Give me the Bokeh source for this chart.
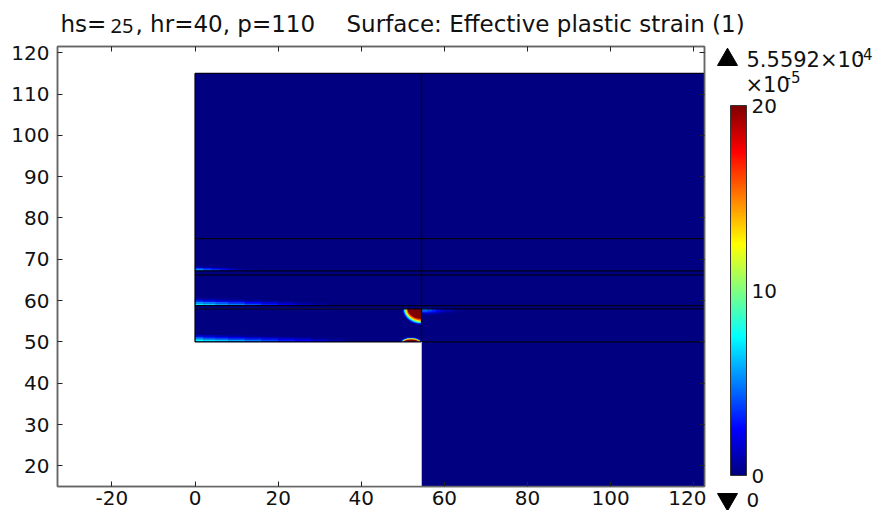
from bokeh.plotting import figure
from bokeh.embed import file_html
from bokeh.resources import INLINE
from bokeh.layouts import column, row
from bokeh.core.properties import value
from bokeh.models import (Range1d, LinearAxis, FixedTicker, LinearColorMapper, ColorBar, ColumnDataSource)
from bokeh.transform import transform
import numpy as np

X_TICKS = [-20, 0, 20, 40, 60, 80, 100, 120]
Y_TICKS = [20, 30, 40, 50, 60, 70, 80, 90, 100, 110, 120]
CBAR_TICKS = [0, 10, 20]
VMIN, VMAX = 0, 20
JET_STOPS = [(0, 0, 128), (0, 0, 255), (0, 128, 255), (0, 255, 255), (128, 255, 128),
             (255, 255, 0), (255, 128, 0), (255, 0, 0), (128, 0, 0)]

# domains: x0, x1, y0, y1
DOM_LOWER = (0, 54.5, 50, 58)
DOM_UPPER = (0, 54.5, 58, 115)
DOM_RIGHT = (54.5, 125, 15, 115)
EMPTY = (0, 54.5, 15, 50)
H_LINES = [75, 67.2, 66.2, 58.8, 58, 50]

# hot streak tables: x edges, y edges, rows of values (bottom row first)
S1_X = [0, 2, 5, 8, 12, 16, 20, 24, 28, 32, 36]
S1_Y = [50.1, 50.5, 50.9, 51.3, 51.7]
S1_V = [[7.5, 7, 6.5, 6, 5, 4, 3.2, 2.5, 1.6, 0.8],
        [6.5, 5.5, 5, 4.2, 3.5, 3, 2.2, 1.6, 0.8, 0.4],
        [4, 3.2, 2.8, 2.3, 1.6, 1.2, 0.8, 0.5, 0.2, 0],
        [1.5, 1.2, 0.8, 0.5, 0.3, 0.1, 0, 0, 0, 0]]
S2_X = [0, 2, 5, 8, 12, 16, 20, 24, 28, 32]
S2_Y = [58.9, 59.3, 59.7, 60.1, 60.5]
S2_V = [[7, 6.5, 5.5, 5, 4, 3, 2.2, 1.3, 0.7],
        [5.5, 5, 4.3, 3.5, 2.6, 1.8, 1.2, 0.6, 0.2],
        [3.5, 2.8, 2.2, 1.7, 1, 0.6, 0.3, 0, 0],
        [1.2, 0.9, 0.6, 0.4, 0.2, 0, 0, 0, 0]]
S3_X = [0, 2, 4, 6, 8, 10, 12, 15]
S3_Y = [67.3, 67.6, 67.9, 68.2]
S3_V = [[6.5, 5, 4.2, 3.2, 2.3, 1.4, 0.6],
        [4, 3.2, 2.3, 1.6, 0.9, 0.4, 0.2],
        [1.3, 0.9, 0.5, 0.3, 0.1, 0, 0]]
S4_X = [54.5, 56, 57, 58, 59, 60, 62, 64]
S4_Y = [56.4, 56.8, 57.2, 57.6, 58]
S4_V = [[0.4, 0.4, 0.3, 0.2, 0.1, 0, 0],
        [2, 1.8, 1.4, 1, 0.6, 0.3, 0.1],
        [4, 3.5, 3, 2.2, 1.5, 0.8, 0.3],
        [5, 4.5, 3.5, 2.8, 2, 1.2, 0.5]]

# hot spots: ring values with half-axes, outermost first
CORNER_V = [1, 3.5, 7, 10, 13, 16, 20]
CORNER_RX = [4.7, 4.5, 4.25, 4.05, 3.85, 3.6, 3.35]
CORNER_RY = [3.9, 3.7, 3.45, 3.25, 3.05, 2.8, 2.45]
BASE_V = [3, 9, 14, 20]
BASE_RX = [2.5, 2.25, 2.05, 1.8]
BASE_RY = [1.15, 0.95, 0.8, 0.6]

FRAME_W, FRAME_H = 647, 440
TOP_H = 44
SIDE_TOP = 46
MAIN_W = 706
W, H = 878, 512

xs = np.linspace(0, 1, 256)
stops = np.array(JET_STOPS, float)
pos = np.linspace(0, 1, len(stops))
palette = ["#%02x%02x%02x" % tuple(int(round(np.interp(t, pos, stops[:, k]))) for k in range(3)) for t in xs]
mapper = LinearColorMapper(palette=palette, low=VMIN, high=VMAX)

XR = (-33.1, 122.6)
YR = (15.0, 121.5)
p = figure(frame_width=FRAME_W, frame_height=FRAME_H, output_backend="svg", toolbar_location=None,
           x_range=Range1d(*XR), y_range=Range1d(*YR), min_border_left=57, min_border_top=2,
           min_border_bottom=26, min_border_right=2, outline_line_color="#666666",
           outline_line_width=1.5, background_fill_color="white", border_fill_color="white")
p.grid.visible = False


def style(ax, ticks, labels=True):
    ax.ticker = FixedTicker(ticks=ticks)
    ax.major_tick_in = 5
    ax.major_tick_out = 0
    ax.minor_tick_in = 0
    ax.minor_tick_out = 0
    ax.axis_line_color = "#666666"
    ax.axis_line_width = 1.5
    ax.major_tick_line_color = "#222222"
    ax.major_label_text_font = "DejaVu Sans"
    ax.major_label_text_font_size = "20px"
    ax.major_label_text_color = "#111111"
    if not labels:
        ax.major_label_text_font_size = "0px"
        ax.major_label_text_color = None
        ax.major_label_standoff = 0


top_ax = LinearAxis()
right_ax = LinearAxis()
p.add_layout(top_ax, "above")
p.add_layout(right_ax, "right")
style(p.below[0], X_TICKS)
style(p.left[0], Y_TICKS)
style(top_ax, X_TICKS, False)
style(right_ax, Y_TICKS, False)
p.below[0].major_label_standoff = 4
p.below[0].major_label_overrides = {-20: "-20"}
p.left[0].major_label_standoff = 8


def fill(box):
    p.quad(left=[box[0]], right=[box[1]], bottom=[box[2]], top=[box[3]],
           fill_color=palette[0], line_color=None)


def grid(xe, ye, vals):
    l, r, b, t, v = [], [], [], [], []
    for j, rw in enumerate(vals):
        for i, val in enumerate(rw):
            l.append(xe[i]); r.append(xe[i + 1]); b.append(ye[j]); t.append(ye[j + 1]); v.append(val)
    src = ColumnDataSource(dict(l=l, r=r, b=b, t=t, v=v))
    p.quad(left="l", right="r", bottom="b", top="t", source=src,
           fill_color=transform("v", mapper), line_color=transform("v", mapper), line_width=0.2)


fill(DOM_LOWER)
for v, rx, ry in zip(CORNER_V, CORNER_RX, CORNER_RY):
    src = ColumnDataSource(dict(x=[54.5], y=[58], w=[2 * rx], h=[2 * ry], v=[v]))
    p.ellipse(x="x", y="y", width="w", height="h", source=src, fill_color=transform("v", mapper), line_color=None)
for v, rx, ry in zip(BASE_V, BASE_RX, BASE_RY):
    src = ColumnDataSource(dict(x=[52], y=[50], w=[2 * rx], h=[2 * ry], v=[v]))
    p.ellipse(x="x", y="y", width="w", height="h", source=src, fill_color=transform("v", mapper), line_color=None)
fill(DOM_UPPER)
fill(DOM_RIGHT)
p.quad(left=[EMPTY[0]], right=[EMPTY[1]], bottom=[EMPTY[2]], top=[EMPTY[3]], fill_color="white", line_color=None)
grid(S1_X, S1_Y, S1_V)
grid(S2_X, S2_Y, S2_V)
grid(S3_X, S3_Y, S3_V)
grid(S4_X, S4_Y, S4_V)

EDGE = "#00001a"
for y in H_LINES:
    p.line([0, 125], [y, y], line_color=EDGE, line_width=1.3)
p.line([0, 0], [50, 115], line_color=EDGE, line_width=1.3)
p.line([0, 125], [115, 115], line_color=EDGE, line_width=1.3)
p.line([54.5, 54.5], [50, 115], line_color=EDGE, line_width=1.3)
p.line([54.5, 54.5], [15, 50], line_color="#bbbbbb", line_width=1)


def strip(w, h, xr, yr):
    f = figure(frame_width=w, frame_height=h, output_backend="svg", toolbar_location=None,
               x_range=Range1d(*xr), y_range=Range1d(*yr), min_border=0, outline_line_color=None,
               x_axis_location=None, y_axis_location=None)
    f.grid.visible = False
    return f


BASELINE_SHIFT = 0.38  # the page draws alphabetic text lower than asked, in ems


def txt(f, s, px, py, size, font="DejaVu Sans"):
    f.text(x=[px], y=[py - BASELINE_SHIFT * size], text=[s], text_font=value(font),
           text_font_size=value("%dpx" % size), text_color="#111111",
           text_baseline="alphabetic", text_align="left")


head = strip(W, TOP_H, (0, W), (TOP_H, 0))
txt(head, "hs=", 60, 32.5, 23)
txt(head, "25", 110, 33, 20, "Noto Sans")
txt(head, ", hr=40, p=110", 135, 32.5, 23)
txt(head, "Surface: Effective plastic strain (1)", 346, 32.5, 23)

side = strip(W - MAIN_W, H - SIDE_TOP, (MAIN_W, W), (H, SIDE_TOP))
txt(side, "5.5592\u00d710", 746, 67, 21)
txt(side, "-4", 857, 59, 15)
txt(side, "\u00d710", 745, 92, 21)
txt(side, "-5", 785, 82, 15)
txt(side, "0", 746, 507, 20)
side.scatter(x=[727], y=[59.2], marker="triangle", size=20, fill_color="black", line_color="black")
side.scatter(x=[727], y=[498.8], marker="inverted_triangle", size=20, fill_color="black", line_color="black")

cb = ColorBar(color_mapper=mapper, ticker=FixedTicker(ticks=CBAR_TICKS), location=(730 - MAIN_W, H - 475), width=16,
              height=370, padding=0, margin=0, major_tick_line_color=None, minor_tick_line_color=None,
              bar_line_color="#333333", major_label_text_font="DejaVu Sans",
              major_label_text_font_size="20px", major_label_text_color="#111111", label_standoff=5,
              background_fill_color=None, border_line_color=None)
side.add_layout(cb, "center")

page = column(head, row(p, side, spacing=0), spacing=0)
open("out.html", "w").write(file_html(page, INLINE))
